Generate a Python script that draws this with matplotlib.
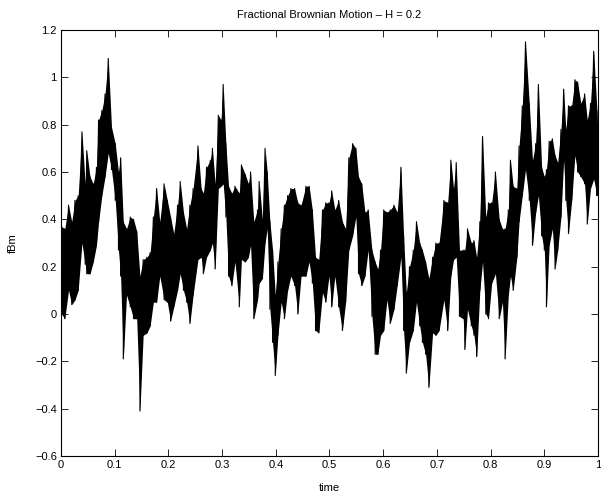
import numpy as np
import matplotlib
matplotlib.use('Agg')
import matplotlib.pyplot as plt
from matplotlib.ticker import FuncFormatter

# 読み取った時刻（横軸）
time = [0.001, 0.007, 0.014, 0.020, 0.026, 0.032, 0.039, 0.045, 0.048, 0.054,
        0.060, 0.066, 0.070, 0.076, 0.082, 0.088, 0.094, 0.101, 0.107, 0.111,
        0.116, 0.122, 0.129, 0.135, 0.141, 0.147, 0.153, 0.160, 0.166,
        0.172, 0.178, 0.184, 0.192, 0.198, 0.204, 0.210, 0.217, 0.222, 0.228,
        0.234, 0.240, 0.246, 0.255, 0.261, 0.265, 0.271, 0.278, 0.282, 0.287,
        0.293, 0.298, 0.302, 0.307, 0.312, 0.318, 0.324, 0.332,
        0.336, 0.343, 0.349, 0.353, 0.359, 0.366, 0.369, 0.375, 0.380, 0.384,
        0.389, 0.394, 0.399, 0.404, 0.410, 0.416, 0.422, 0.428, 0.435, 0.441,
        0.447, 0.456, 0.462, 0.468, 0.474, 0.480, 0.487, 0.493, 0.499,
        0.504, 0.510, 0.517, 0.524, 0.530, 0.536, 0.543, 0.549, 0.554, 0.560,
        0.566, 0.572, 0.579, 0.585, 0.590, 0.595, 0.601, 0.607, 0.613, 0.620,
        0.626, 0.633, 0.638, 0.643, 0.649, 0.656, 0.662, 0.668,
        0.673, 0.679, 0.685, 0.692, 0.698, 0.704, 0.713, 0.720, 0.726, 0.731,
        0.736, 0.742, 0.749, 0.752, 0.757, 0.764, 0.769, 0.774, 0.780, 0.785,
        0.791, 0.796, 0.802, 0.809, 0.816, 0.822, 0.827, 0.833, 0.837,
        0.842, 0.849, 0.853, 0.859, 0.865, 0.872, 0.878, 0.884, 0.889, 0.895,
        0.900, 0.904, 0.909, 0.915, 0.920, 0.925, 0.931, 0.936, 0.940, 0.945,
        0.951, 0.957, 0.962, 0.968, 0.975, 0.980, 0.986, 0.992, 0.998, 1.000]

# 各時刻での上側の値（山）
fbm_high = [0.37, 0.36, 0.46, 0.39, 0.48, 0.50, 0.77, 0.55, 0.69, 0.58,
            0.55, 0.62, 0.82, 0.86, 0.93, 1.08, 0.79, 0.72, 0.60, 0.66,
            0.39, 0.36, 0.41, 0.40, 0.35, 0.16, 0.23, 0.24, 0.26,
            0.41, 0.53, 0.39, 0.55, 0.48, 0.41, 0.34, 0.46, 0.56, 0.43,
            0.36, 0.46, 0.53, 0.71, 0.53, 0.51, 0.62, 0.65, 0.70, 0.55,
            0.84, 0.82, 0.97, 0.72, 0.54, 0.51, 0.54, 0.51,
            0.63, 0.59, 0.55, 0.60, 0.39, 0.44, 0.56, 0.40, 0.70, 0.60,
            0.39, 0.27, 0.08, 0.22, 0.36, 0.46, 0.50, 0.53, 0.53, 0.47,
            0.46, 0.54, 0.54, 0.44, 0.24, 0.23, 0.44, 0.47, 0.47,
            0.52, 0.44, 0.48, 0.39, 0.36, 0.66, 0.72, 0.70, 0.58, 0.55,
            0.43, 0.44, 0.27, 0.22, 0.19, 0.27, 0.44, 0.43, 0.44, 0.46,
            0.43, 0.62, 0.33, 0.09, 0.20, 0.27, 0.39, 0.30,
            0.27, 0.22, 0.15, 0.24, 0.30, 0.30, 0.48, 0.47, 0.65, 0.53,
            0.64, 0.27, 0.27, 0.27, 0.36, 0.30, 0.31, 0.24, 0.39, 0.75,
            0.41, 0.47, 0.47, 0.60, 0.40, 0.36, 0.36, 0.44, 0.65,
            0.54, 0.53, 0.71, 0.88, 1.15, 0.89, 0.65, 0.72, 0.97, 0.62,
            0.58, 0.61, 0.73, 0.74, 0.67, 0.64, 0.78, 0.95, 0.78, 0.88,
            0.88, 0.99, 0.98, 0.89, 0.93, 0.82, 0.89, 1.11, 0.86, 0.75]

# 各時刻での下側の値（谷）
fbm_low = [0.00, -0.02, 0.10, 0.04, 0.06, 0.10, 0.30, 0.21, 0.17, 0.17,
           0.22, 0.29, 0.39, 0.50, 0.58, 0.68, 0.61, 0.48, 0.27, 0.16,
           -0.19, 0.08, 0.03, -0.02, -0.02, -0.41, -0.09, -0.08, -0.05,
           0.05, 0.05, 0.16, 0.06, 0.05, -0.03, 0.03, 0.10, 0.17, 0.10,
           0.05, -0.04, 0.08, 0.23, 0.24, 0.17, 0.24, 0.27, 0.30, 0.19,
           0.53, 0.54, 0.55, 0.41, 0.16, 0.12, 0.22, 0.03,
           0.23, 0.22, 0.24, 0.29, -0.02, 0.06, 0.13, 0.15, 0.30, 0.36,
           0.02, -0.12, -0.26, -0.09, 0.05, -0.02, 0.10, 0.16, 0.12, 0.00,
           0.16, 0.16, 0.22, 0.13, -0.07, -0.08, 0.09, 0.05, 0.16,
           0.03, 0.16, 0.03, -0.07, 0.05, 0.27, 0.33, 0.41, 0.17, 0.12,
           0.16, 0.27, -0.01, -0.17, -0.17, -0.09, -0.07, 0.06, -0.04, 0.02,
           0.12, 0.24, -0.07, -0.25, -0.12, -0.07, 0.05, -0.05,
           -0.12, -0.17, -0.31, -0.08, -0.09, -0.07, 0.06, -0.07, 0.16, 0.23,
           0.24, -0.01, -0.02, -0.15, 0.02, -0.05, -0.09, -0.18, 0.10, 0.22,
           0.00, -0.02, 0.13, 0.17, -0.02, 0.05, -0.19, 0.08, 0.16,
           0.10, 0.24, 0.39, 0.50, 0.61, 0.48, 0.29, 0.43, 0.50, 0.33,
           0.27, 0.03, 0.29, 0.36, 0.19, 0.27, 0.41, 0.65, 0.48, 0.34,
           0.48, 0.67, 0.60, 0.58, 0.55, 0.38, 0.53, 0.57, 0.50, 0.65]

x_ticks = [0, 0.1, 0.2, 0.3, 0.4, 0.5, 0.6, 0.7, 0.8, 0.9, 1]
y_ticks = [-0.6, -0.4, -0.2, 0, 0.2, 0.4, 0.6, 0.8, 1, 1.2]


def matlab_fmt(v, pos):
    s = '%g' % round(v, 2)
    return s.replace('-', '\u2212')


def main():
    plt.rcParams['font.family'] = ['Liberation Sans', 'DejaVu Sans']
    plt.rcParams['font.size'] = 8

    fig = plt.figure(figsize=(6.01, 4.92), dpi=100)
    ax = fig.add_axes([0.1015, 0.0732, 0.8935, 0.8658])

    t = np.array(time)
    hi = np.array(fbm_high)
    lo = np.array(fbm_low)

    # 帯の中身を塗りつぶし、ギザギザの線を重ねる
    ax.fill_between(t, lo, hi, color='k', linewidth=0)
    ax.plot(np.repeat(t, 2), np.column_stack([hi, lo]).ravel(),
            color='k', linewidth=0.8)

    ax.set_xlim(0, 1)
    ax.set_ylim(-0.6, 1.2)
    ax.set_xticks(x_ticks)
    ax.set_yticks(y_ticks)
    ax.xaxis.set_major_formatter(FuncFormatter(matlab_fmt))
    ax.yaxis.set_major_formatter(FuncFormatter(matlab_fmt))
    ax.tick_params(direction='in', length=5, width=0.6,
                   top=True, right=True, labelsize=8, pad=3)
    for sp in ax.spines.values():
        sp.set_linewidth(0.8)

    ax.set_title('Fractional Brownian Motion \u2013 H = 0.2', fontsize=8, pad=9)
    ax.set_xlabel('time', fontsize=8, labelpad=9)
    ax.set_ylabel('fBm', fontsize=8, labelpad=12)

    fig.savefig('out.png', dpi=100)


if __name__ == '__main__':
    main()
